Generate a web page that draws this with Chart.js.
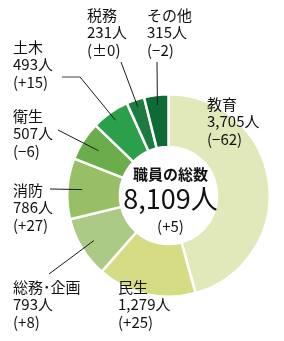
<!DOCTYPE html>
<html>
<head>
<meta charset="utf-8">
<script src="https://cdn.jsdelivr.net/npm/chart.js@4"></script>
<style>
  html, body { margin: 0; padding: 0; background: #fff; }
  #wrap { width: 284px; height: 341px; position: relative; }
</style>
</head>
<body>
<div id="wrap"><canvas id="chart" width="284" height="341"></canvas></div>
<script>
// data, clockwise from 12 o'clock
const categories = ['教育', '民生', '総務･企画', '消防', '衛生', '土木', '税務', 'その他'];
const staffCounts = [3705, 1279, 793, 786, 507, 493, 231, 315];
const changes = ['(−62)', '(+25)', '(+8)', '(+27)', '(−6)', '(+15)', '(±0)', '(−2)'];
const totalLabel = '8,109人';
const totalChange = '(+5)';

const colors = ['#e1e8ba', '#d6dc84', '#abca85', '#97c066', '#6aad4a', '#2b9f49', '#1e7b3f', '#0e6b36'];

// label layout: left x, centre y of first line
const labelPos = [
  [207, 104], [118, 287], [13, 287], [13, 190],
  [13, 116], [13, 47], [87, 15], [147, 15]
];
// leader lines: start point, optional elbow, and how far into the ring they end
const leaders = [
  { i: 2, from: [49, 274], r: 0.86 },
  { i: 3, from: [50, 189], r: 0.855 },
  { i: 4, from: [58, 130], r: 0.82 },
  { i: 5, from: [62, 77], elbow: [80, 77], r: 0.91 },
  { i: 6, from: [121, 62], r: 0.93 },
  { i: 7, from: [157, 62], r: 0.9 }
];

const labelPlugin = {
  id: 'labels',
  afterDraw(chart) {
    const ctx = chart.ctx;
    const arcs = chart.getDatasetMeta(0).data;
    ctx.save();

    // leader lines
    leaders.forEach(l => {
      const a = arcs[l.i];
      const mid = (a.startAngle + a.endAngle) / 2;
      const ex = a.x + Math.cos(mid) * a.outerRadius * l.r;
      const ey = a.y + Math.sin(mid) * a.outerRadius * l.r;
      ctx.lineWidth = 1;
      let sx = l.from[0], sy = l.from[1];
      if (l.elbow) {
        ctx.strokeStyle = '#8a8a8a';
        ctx.lineWidth = 1.6;
        ctx.beginPath();
        ctx.moveTo(sx, sy);
        ctx.lineTo(l.elbow[0], l.elbow[1]);
        ctx.stroke();
        sx = l.elbow[0]; sy = l.elbow[1];
        ctx.lineWidth = 1;
      }
      ctx.strokeStyle = '#1a1a1a';
      ctx.beginPath();
      ctx.moveTo(sx, sy);
      ctx.lineTo(ex, ey);
      ctx.stroke();
    });

    // category labels
    ctx.fillStyle = '#111';
    ctx.textBaseline = 'middle';
    ctx.textAlign = 'left';
    ctx.font = '15px "Noto Sans CJK JP"';
    categories.forEach((name, i) => {
      const [x, y] = labelPos[i];
      const lines = [name, staffCounts[i].toLocaleString('en-US') + '人', changes[i]];
      lines.forEach((t, k) => ctx.fillText(t, x, y + k * 17.5));
    });

    // centre text
    const cx = arcs[0].x + 2;
    const cy = arcs[0].y;
    ctx.textAlign = 'center';
    ctx.font = 'bold 15px "Noto Sans CJK JP"';
    ctx.fillText('職員の総数', cx, cy - 21);
    ctx.font = '27px "Noto Sans CJK JP"';
    ctx.fillText(totalLabel, cx, cy + 3);
    ctx.font = '15px "Noto Sans CJK JP"';
    ctx.fillText(totalChange, cx, cy + 31);
    ctx.restore();
  }
};

new Chart(document.getElementById('chart'), {
  type: 'doughnut',
  data: {
    labels: categories,
    datasets: [{
      data: staffCounts,
      backgroundColor: colors,
      borderColor: '#ffffff',
      borderWidth: 2.5,
      hoverOffset: 0,
      offset: 0
    }]
  },
  options: {
    responsive: false,
    animation: false,
    cutout: '48%',
    layout: { padding: { left: 66, right: 13, top: 93, bottom: 43 } },
    plugins: {
      legend: { display: false },
      tooltip: { enabled: false }
    }
  },
  plugins: [labelPlugin]
});
</script>
</body>
</html>
